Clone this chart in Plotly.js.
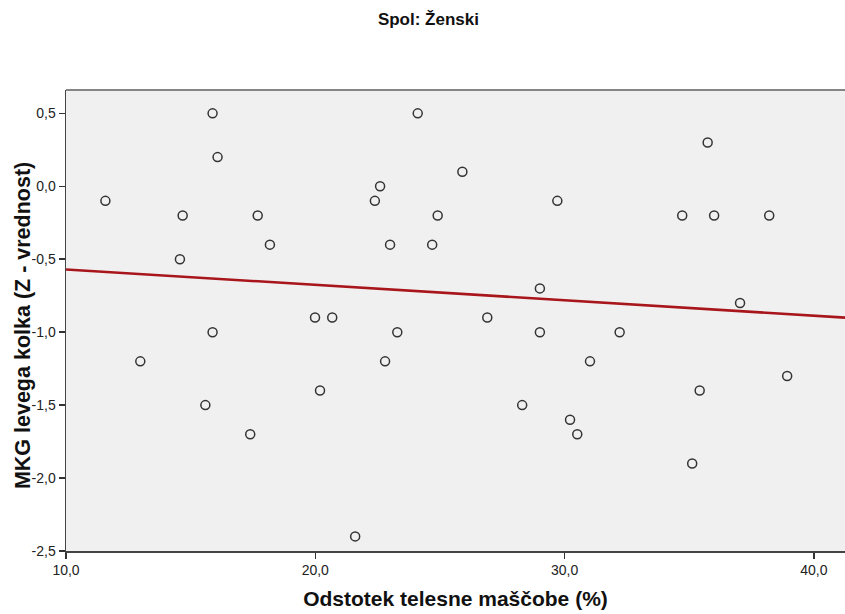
<!DOCTYPE html>
<html>
<head>
<meta charset="utf-8">
<script src="https://cdn.plot.ly/plotly-3.0.1.min.js"></script>
<style>html,body{margin:0;padding:0;background:#fff;}#chart{width:845px;height:614px;}</style>
</head>
<body>
<div id="chart"></div>
<script>
// Body fat percentage (x) and hip BMD Z-score (y), female group
const fatPct = [11.58, 12.98, 14.68, 14.57, 15.88, 16.08, 15.88, 15.59, 17.69, 18.18,
  17.39, 19.99, 20.68, 20.19, 21.60, 22.39, 22.60, 23.00, 22.80, 23.29,
  24.11, 24.69, 24.91, 25.90, 26.90, 28.30, 29.01, 29.01, 29.71, 30.22,
  30.51, 31.02, 32.21, 34.72, 35.74, 36.00, 35.12, 35.42, 37.04, 38.21, 38.93];
const zScore = [-0.1, -1.2, -0.2, -0.5, 0.5, 0.2, -1.0, -1.5, -0.2, -0.4,
  -1.7, -0.9, -0.9, -1.4, -2.4, -0.1, 0.0, -0.4, -1.2, -1.0,
  0.5, -0.4, -0.2, 0.1, -0.9, -1.5, -0.7, -1.0, -0.1, -1.6,
  -1.7, -1.2, -1.0, -0.2, 0.3, -0.2, -1.9, -1.4, -0.8, -0.2, -1.3];
// Fit line endpoints (at x = 10 and x = 41.25)
const fitX = [10, 41.25];
const fitY = [-0.57, -0.90];

const xTicks = [10, 20, 30, 40];
const xTickText = ['10,0', '20,0', '30,0', '40,0'];
const yTicks = [0.5, 0.0, -0.5, -1.0, -1.5, -2.0, -2.5];
const yTickText = ['0,5', '0,0', '-0,5', '-1,0', '-1,5', '-2,0', '-2,5'];

const traces = [
  {
    x: fitX, y: fitY, type: 'scatter', mode: 'lines',
    line: {color: '#a8161c', width: 2.6}, hoverinfo: 'skip', showlegend: false
  },
  {
    x: fatPct, y: zScore, type: 'scatter', mode: 'markers',
    marker: {symbol: 'circle-open', size: 9, color: '#333333', line: {width: 1.5, color: '#333333'}},
    showlegend: false
  }
];

const layout = {
  width: 845, height: 614,
  margin: {l: 66, r: 0, t: 90, b: 63},
  paper_bgcolor: '#ffffff',
  plot_bgcolor: '#f0f0f0',
  font: {family: 'Liberation Sans, Arial, sans-serif', color: '#222'},
  title: {
    text: '<b>Spol: Ženski</b>',
    font: {size: 17, color: '#111'},
    x: 0.507, xref: 'container', y: 0.969, yref: 'container', yanchor: 'middle'
  },
  xaxis: {
    range: [10, 41.25],
    tickmode: 'array', tickvals: xTicks, ticktext: xTickText,
    ticks: 'outside', ticklen: 6, tickwidth: 1.5, tickcolor: '#333',
    showgrid: false, zeroline: false,
    showline: true, linecolor: '#444', linewidth: 1.5,
    tickfont: {size: 14, color: '#222'},
    title: {text: '<b>Odstotek telesne maščobe (%)</b>', font: {size: 21, color: '#111'}, standoff: 14}
  },
  yaxis: {
    range: [-2.5, 0.66],
    tickmode: 'array', tickvals: yTicks, ticktext: yTickText,
    ticks: 'outside', ticklen: 6, tickwidth: 1.5, tickcolor: '#333',
    showgrid: false, zeroline: false,
    showline: true, linecolor: '#444', linewidth: 1.5,
    tickfont: {size: 14, color: '#222'}
  },
  shapes: [
    {type: 'line', xref: 'paper', yref: 'paper', x0: 0, x1: 1, y0: 1, y1: 1,
     line: {color: '#858585', width: 2}}
  ],
  annotations: [
    {
      text: '<b>MKG levega kolka (Z - vrednost)</b>',
      xref: 'paper', yref: 'paper', x: -0.0552, y: 0.49,
      xanchor: 'center', yanchor: 'middle', textangle: -90, showarrow: false,
      font: {size: 21.5, color: '#111'}
    }
  ]
};

Plotly.newPlot('chart', traces, layout, {displayModeBar: false, staticPlot: true});
</script>
</body>
</html>
